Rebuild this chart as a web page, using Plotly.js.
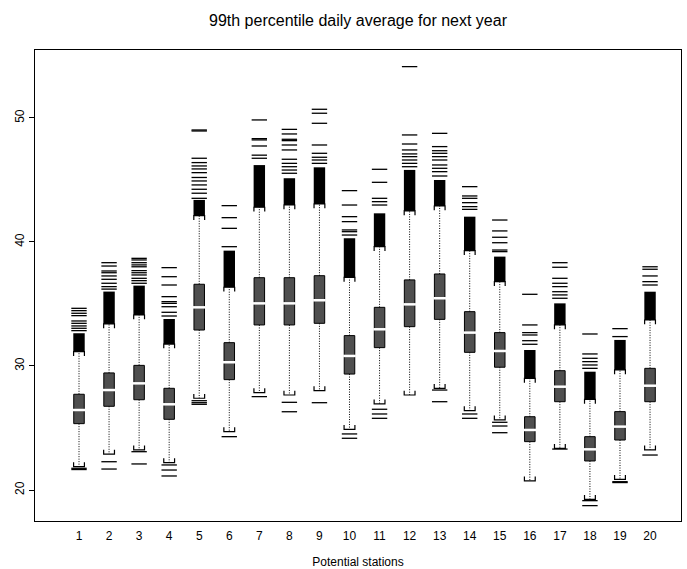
<!DOCTYPE html>
<html>
<head>
<meta charset="utf-8">
<script src="https://cdn.plot.ly/plotly-3.0.1.min.js"></script>
<style>html,body{margin:0;padding:0;background:#fff;}#chart{width:687px;height:569px;}</style>
</head>
<body>
<div id="chart"></div>
<script>
var stations = [1,2,3,4,5,6,7,8,9,10,11,12,13,14,15,16,17,18,19,20];
var tickLabels = ["1","2","3","4","5","6","7","8","9","10","11","12","13","14","15","16","17","18","19","20"];
var q1 = [25.35,26.75,27.28,25.70,32.90,28.90,33.31,33.31,33.44,29.35,31.48,33.17,33.76,31.10,29.90,23.90,27.12,22.34,24.03,27.12];
var median = [26.45,28.06,28.60,26.91,34.73,30.30,35.05,35.05,35.30,30.81,32.96,34.97,35.46,32.69,31.21,24.84,28.33,23.28,25.11,28.41];
var q3 = [27.72,29.44,30.05,28.20,36.59,31.88,37.12,37.12,37.28,32.45,34.73,36.94,37.42,34.38,32.69,25.91,29.62,24.30,26.32,29.81];
var whiskerLow = [21.88,22.90,23.23,22.20,27.40,24.70,27.85,27.66,28.01,24.89,26.94,27.66,28.20,26.40,25.65,20.73,23.36,19.25,20.86,23.23];
var whiskerHigh = [31.15,33.39,34.11,31.77,42.12,36.35,42.80,42.98,43.06,37.15,39.62,42.50,42.90,39.30,36.80,29.00,33.31,27.31,29.68,33.71];
// top of the solid run of overlapping outliers just above the upper whisker
var denseOutlierTop = [32.64,36.00,36.48,33.79,43.39,39.30,46.20,45.14,46.02,40.30,42.31,45.81,45.00,42.04,38.82,31.29,35.05,29.54,32.10,35.99];
var upperOutliers = [
  [32.85,33.04,33.23,33.44,33.63,34.06,34.25,34.46,34.65],
  [36.2,36.4,36.67,36.99,37.26,37.52,37.66,38.06,38.33],
  [36.67,36.88,37.07,37.34,37.52,37.69,38.0,38.15,38.33,38.55,38.68],
  [34.03,34.33,34.78,35.05,35.19,35.59,36.53,37.2,37.93],
  [43.52,43.93,44.25,44.6,44.92,45.2,45.59,45.89,46.13,46.4,46.75,48.95,49.03],
  [39.62,41.1,41.96,42.93],
  [46.75,47.0,47.74,48.23,48.33,49.84],
  [45.54,45.8,46.07,46.34,46.67,47.42,47.82,48.17,48.28,48.71,49.08],
  [46.34,46.61,46.83,47.15,47.82,49.57,50.38,50.7],
  [40.56,40.83,40.97,41.64,42.04,42.98,44.14],
  [42.98,43.25,43.52,44.81,45.86],
  [46.07,46.34,46.61,46.88,47.1,47.42,47.9,48.63,54.14],
  [45.32,45.67,45.94,46.21,46.61,46.88,47.15,47.36,47.69,48.76],
  [42.63,42.85,43.17,43.52,43.71,44.46],
  [39.22,39.35,39.94,40.38,40.89,41.77],
  [31.75,32.04,32.5,32.69,33.31,35.78],
  [35.46,35.73,35.99,36.4,36.67,37.07,37.96,38.33],
  [29.81,30.08,30.35,30.62,30.97,32.58],
  [32.37,33.01],
  [36.53,36.8,37.26,37.8,38.0]
];
var lowerOutliers = [
  [21.75,21.65],[22.28,21.69],[23.09,22.1],[22.02,21.61,21.13],[27.2,27.04,26.91],
  [24.3],[27.53],[27.07,26.31],[27.04],[24.52,24.17],
  [26.51,26.13,25.78],[],[28.06,27.12],[26.13,25.78],[25.46,25.16,24.62],
  [],[23.3],[19.14,18.74],[20.67,20.6],[22.82]
];

var FONT = "Liberation Sans, Arial, Helvetica, sans-serif";
var halfStaple = 0.18, serif = 0.35;

// whiskers
var wx = [], wy = [];
stations.forEach(function(s, i){
  wx.push(s, s, null, s, s, null);
  wy.push(q3[i], whiskerHigh[i], null, q1[i], whiskerLow[i], null);
});
// staples with serifs pointing toward the box
var sx = [], sy = [];
stations.forEach(function(s, i){
  sx.push(s-halfStaple, s-halfStaple, s+halfStaple, s+halfStaple, null);
  sy.push(whiskerHigh[i]-serif, whiskerHigh[i], whiskerHigh[i], whiskerHigh[i]-serif, null);
  sx.push(s-halfStaple, s-halfStaple, s+halfStaple, s+halfStaple, null);
  sy.push(whiskerLow[i]+serif, whiskerLow[i], whiskerLow[i], whiskerLow[i]+serif, null);
});
// outliers
var ox = [], oy = [];
stations.forEach(function(s, i){
  upperOutliers[i].forEach(function(v){ ox.push(s); oy.push(v); });
  lowerOutliers[i].forEach(function(v){ ox.push(s); oy.push(v); });
});

var traces = [
  {type:"scatter", mode:"lines", x:wx, y:wy, line:{color:"#000", width:1, dash:"1px,1.5px"}, hoverinfo:"skip"},
  {type:"bar", x:stations, base:whiskerHigh, y:denseOutlierTop.map(function(v,i){return v-whiskerHigh[i];}),
   width:0.38, marker:{color:"#000", line:{width:0}}, hoverinfo:"skip"},
  {type:"scatter", mode:"lines", x:sx, y:sy, line:{color:"#000", width:1.2}, hoverinfo:"skip"},
  {type:"scatter", mode:"markers", x:ox, y:oy,
   marker:{symbol:"line-ew", size:11, line:{color:"#000", width:1.3}}, hoverinfo:"skip"},
  {type:"bar", x:stations, base:q1, y:q3.map(function(v,i){return v-q1[i];}),
   width:0.35, marker:{color:"#4f4f4f", line:{color:"#000", width:1}}, hoverinfo:"skip"},
  {type:"scatter", mode:"markers", x:stations, y:median,
   marker:{symbol:"line-ew", size:9, line:{color:"#fff", width:2.5}}, hoverinfo:"skip"}
];

var layout = {
  width:687, height:569,
  margin:{l:35, r:6, t:50, b:48},
  paper_bgcolor:"#fff", plot_bgcolor:"#fff",
  showlegend:false, hovermode:false, barmode:"overlay",
  font:{family:FONT, size:12, color:"#000"},
  title:{text:"99th percentile daily average for next year", font:{family:FONT, size:16, color:"#000"},
         x:0.5, xref:"paper", xanchor:"center", y:0.965, yanchor:"middle"},
  xaxis:{range:[-0.464, 21.03], tickmode:"array", tickvals:stations, ticktext:tickLabels,
         ticks:"", ticklabelstandoff:4, showgrid:false, zeroline:false, showline:true, mirror:true, linecolor:"#000", linewidth:1,
         tickfont:{family:FONT, size:12, color:"#000"},
         title:{text:"Potential stations", font:{family:FONT, size:12, color:"#000"}, standoff:17}},
  yaxis:{range:[17.5, 55.48], tickmode:"array", tickvals:[20,30,40,50], ticktext:["20","30","40","50"],
         ticks:"outside", ticklen:5, tickcolor:"#000", tickangle:-90,
         showgrid:false, zeroline:false, showline:true, mirror:true, linecolor:"#000", linewidth:1,
         tickfont:{family:FONT, size:12, color:"#000"}}
};

Plotly.newPlot("chart", traces, layout, {staticPlot:true, displayModeBar:false});
</script>
</body>
</html>
